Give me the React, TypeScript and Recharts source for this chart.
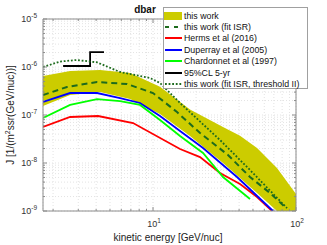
import React from "react";
import { ComposedChart, Line, Area, XAxis, YAxis, CartesianGrid, Label } from "recharts";

// energies in GeV/nuc, fluxes in 1/(m^2 s sr GeV/nuc)
const bandE = [1.7, 2.63, 4.26, 6.91, 11.19, 18.14, 30.86, 40.59, 53.38, 73.6, 100];
const bandLo = [1.54e-7, 2.61e-7, 3.01e-7, 2.15e-7, 1.05e-7, 3.65e-8, 1.0e-8, 4.87e-9, 2.37e-9, 1.0e-9, 4.0e-10];
const bandHi = [6.49e-7, 8.25e-7, 8.66e-7, 7.5e-7, 3.9e-7, 1.3e-7, 5.6e-8, 3.7e-8, 2.05e-8, 7.87e-9, 2.26e-9];

const fitE = [1.7, 2.5, 4.06, 6.58, 10, 14.72, 21.32, 33.45, 47.68, 65.8, 83.8];
const fitJ = [2.61e-7, 3.83e-7, 4.87e-7, 4.42e-7, 2.87e-7, 1.15e-7, 4.22e-8, 1.47e-8, 5.11e-9, 2.37e-9, 1.21e-9];

const hermsE = [1.7, 2.63, 4.13, 7.25, 15.45, 21.32, 29.41, 40.59, 53.38, 67.95];
const hermsJ = [5.62e-8, 9.09e-8, 9.53e-8, 6.81e-8, 1.96e-8, 1.33e-8, 6.19e-9, 3.65e-9, 1.96e-9, 1.0e-9];

const duperrayE = [1.7, 2.63, 4.06, 5.88, 8.11, 11.19, 15.45, 22.37, 38.68, 69.06];
const duperrayJ = [1.87e-7, 2.87e-7, 2.87e-7, 2.26e-7, 1.78e-7, 9.53e-8, 4.64e-8, 2.05e-8, 5.11e-9, 1.0e-9];

const chardE = [1.7, 2.63, 4.06, 5.88, 8.11, 11.19, 15.45, 22.37, 30.86, 47.68];
const chardJ = [8.66e-8, 1.62e-7, 2.15e-7, 1.95e-7, 1.62e-7, 7.87e-8, 3.65e-8, 1.62e-8, 5.11e-9, 1.78e-9];

const clE = [2.35, 3.63, 3.63, 4.54];
const clJ = [1.05e-6, 1.05e-6, 2.05e-6, 2.05e-6];

const thrE = [1.7, 2.24, 2.94, 4.06, 5.88, 9.53, 11.19, 15.45, 29.41, 47.68, 86.5];
const thrJ = [1.0e-6, 1.3e-6, 1.4e-6, 1.25e-6, 7.87e-7, 5.9e-7, 4.64e-7, 1.78e-7, 3.01e-8, 7.15e-9, 1.15e-9];

const xTicks = [2, 3, 4, 5, 6, 7, 8, 9, 10, 20, 30, 40, 50, 60, 70, 80, 90, 100];
const yTicks = [-9, -8, -7, -6].flatMap(p => [1, 2, 3, 4, 5, 6, 7, 8, 9].map(k => k * Math.pow(10, p))).concat([1e-5]);

const pts = (e: number[], j: number[]) => e.map((x, i) => ({ e: x, j: j[i] }));
const bandData = bandE.map((x, i) => ({ e: x, lo: bandLo[i], hi: bandHi[i] }));

const FONT = '"Liberation Sans", Arial, sans-serif';
const AXIS = "#8c8c8c";
const DKGREEN = "#1d6b1d";
const BAND = "#cccc00";

const isMajor = (v: number) => {
    const lg = Math.log10(v);
    return Math.abs(lg - Math.round(lg)) < 1e-6;
};

const YTickLeft = (props: any) => {
    const { x, y, payload } = props;
    const major = isMajor(payload.value);
    return (
        <g>
            <line x1={x} x2={x + (major ? 4 : 2)} y1={y} y2={y} stroke={AXIS} />
            {major && (
                <text x={37} y={y + 3} textAnchor="end" fontSize={9} fill="#333" fontFamily={FONT}>
                    10<tspan dy={-4} fontSize={6.5}>{Math.round(Math.log10(payload.value))}</tspan>
                </text>
            )}
        </g>
    );
};

const YTickRight = (props: any) => {
    const { x, y, payload } = props;
    const major = isMajor(payload.value);
    return <line x1={x} x2={x - (major ? 4 : 2)} y1={y} y2={y} stroke={AXIS} />;
};

const XTickBottom = (props: any) => {
    const { x, y, payload } = props;
    const major = isMajor(payload.value);
    return (
        <g>
            <line x1={x} x2={x} y1={y} y2={y - (major ? 4 : 2)} stroke={AXIS} />
            {major && (
                <text x={x + 1} y={y + 16} textAnchor="middle" fontSize={9} fill="#333" fontFamily={FONT}>
                    10<tspan dy={-4} fontSize={6.5}>{Math.round(Math.log10(payload.value))}</tspan>
                </text>
            )}
        </g>
    );
};

const XTickTop = (props: any) => {
    const { x, y, payload } = props;
    const major = isMajor(payload.value);
    return <line x1={x} x2={x} y1={y} y2={y + (major ? 4 : 2)} stroke={AXIS} />;
};

const legendItems = [
    { label: "this work", kind: "band", color: BAND },
    { label: "this work (fit ISR)", kind: "dash", color: DKGREEN },
    { label: "Herms et al (2016)", kind: "line", color: "#ff0000" },
    { label: "Duperray et al (2005)", kind: "line", color: "#0000ff" },
    { label: "Chardonnet et al (1997)", kind: "line", color: "#00ff00" },
    { label: "95%CL 5-yr", kind: "line", color: "#000000" },
    { label: "this work (fit ISR, threshold II)", kind: "dot", color: DKGREEN },
];

function Swatch({ kind, color }: { kind: string; color: string }) {
    return (
        <svg width={18} height={8} style={{ display: "block", marginRight: 2 }}>
            {kind === "band" ? (
                <rect x={0} y={0} width={18} height={8} fill={color} />
            ) : (
                <line x1={1} x2={18} y1={4} y2={4} stroke={color} strokeWidth={2}
                    strokeDasharray={kind === "dash" ? "4 5" : kind === "dot" ? "1.8 1.8" : undefined} />
            )}
        </svg>
    );
}

export default function App() {
    return (
        <div style={{ position: "absolute", left: 0, top: 0, width: 327, height: 245, background: "#fff" }}>
            <ComposedChart width={327} height={245} margin={{ top: 0, right: 0, bottom: 0, left: 0 }}>
                <CartesianGrid stroke="#e3e3e3" strokeDasharray="1 2" />
                <XAxis xAxisId={0} dataKey="e" type="number" scale="log" domain={[1.7, 100]} allowDataOverflow
                    ticks={xTicks} interval={0} height={34} tickSize={0} tickMargin={0} tickLine={false}
                    stroke={AXIS} tick={<XTickBottom />}>
                    <Label content={() => (
                        <text x={168} y={241} textAnchor="middle" fontSize={10} fill="#222" fontFamily={FONT}>
                            kinetic energy [GeV/nuc]
                        </text>
                    )} />
                </XAxis>
                <XAxis xAxisId="top" orientation="top" dataKey="e" type="number" scale="log" domain={[1.7, 100]}
                    allowDataOverflow ticks={xTicks} interval={0} height={19} tickSize={0} tickMargin={0}
                    tickLine={false} stroke={AXIS} tick={<XTickTop />}>
                    <Label content={() => (
                        <text x={145} y={13} textAnchor="middle" fontSize={10} fontWeight="bold" fill="#111" fontFamily={FONT}>
                            dbar
                        </text>
                    )} />
                </XAxis>
                <YAxis yAxisId={0} type="number" scale="log" domain={[1e-9, 1e-5]} allowDataOverflow
                    ticks={yTicks} interval={0} width={43} tickSize={0} tickMargin={0} tickLine={false}
                    stroke={AXIS} tick={<YTickLeft />}>
                    <Label content={() => (
                        <text transform="translate(14,115) rotate(-90)" textAnchor="middle" fontSize={10} fill="#222" fontFamily={FONT}>
                            J [1/(m<tspan dy={-4} fontSize={7}>2</tspan><tspan dy={4}>ssr(GeV/nuc))]</tspan>
                        </text>
                    )} />
                </YAxis>
                <YAxis yAxisId="right" orientation="right" type="number" scale="log" domain={[1e-9, 1e-5]}
                    allowDataOverflow ticks={yTicks} interval={0} width={31} tickSize={0} tickMargin={0}
                    tickLine={false} stroke={AXIS} tick={<YTickRight />} />

                <Area data={bandData} dataKey={(d: any) => [d.lo, d.hi]} type="linear" fill={BAND} fillOpacity={1}
                    stroke="none" isAnimationActive={false} dot={false} activeDot={false} />
                <Line data={pts(fitE, fitJ)} dataKey="j" type="linear" stroke={DKGREEN} strokeWidth={2}
                    strokeDasharray="6 4" dot={false} activeDot={false} isAnimationActive={false} />
                <Line data={pts(hermsE, hermsJ)} dataKey="j" type="linear" stroke="#ff0000" strokeWidth={1.8}
                    dot={false} activeDot={false} isAnimationActive={false} />
                <Line data={pts(duperrayE, duperrayJ)} dataKey="j" type="linear" stroke="#0000ff" strokeWidth={1.8}
                    dot={false} activeDot={false} isAnimationActive={false} />
                <Line data={pts(chardE, chardJ)} dataKey="j" type="linear" stroke="#00ff00" strokeWidth={1.8}
                    dot={false} activeDot={false} isAnimationActive={false} />
                <Line data={pts(clE, clJ)} dataKey="j" type="linear" stroke="#000000" strokeWidth={1.8}
                    dot={false} activeDot={false} isAnimationActive={false} />
                <Line data={pts(thrE, thrJ)} dataKey="j" type="linear" stroke={DKGREEN} strokeWidth={1.8}
                    strokeDasharray="1.8 1.8" dot={false} activeDot={false} isAnimationActive={false} />
            </ComposedChart>

            <div style={{
                position: "absolute", left: 163, top: 7, width: 145, height: 82, boxSizing: "border-box",
                border: "1px solid #a0a0a0", background: "#fff", fontFamily: FONT, fontSize: 8.8,
                color: "#111", paddingTop: 2
            }}>
                {legendItems.map(it => (
                    <div key={it.label} style={{ display: "flex", alignItems: "center", height: 11.4, whiteSpace: "nowrap" }}>
                        <Swatch kind={it.kind} color={it.color} />
                        <span>{it.label}</span>
                    </div>
                ))}
            </div>
        </div>
    );
}
